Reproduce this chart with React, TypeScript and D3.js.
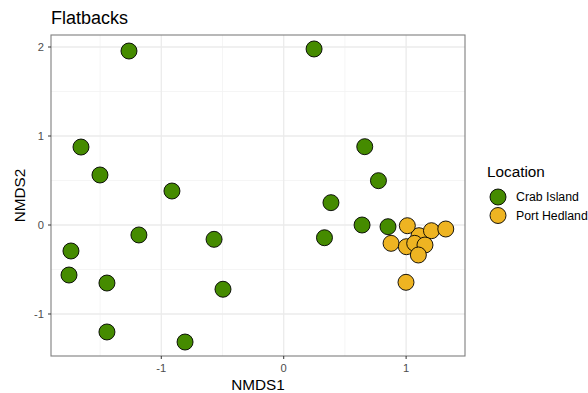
import React from 'react'
import * as d3 from 'd3'

// NMDS scores
const crabX = [-1.264, -1.656, -1.501, -0.913, -1.183, -1.738, -1.754, -1.444, -1.444, -0.806, -0.569, -0.496, 0.248, 0.662, 0.774, 0.386, 0.64, 0.333, 0.852]
const crabY = [1.955, 0.876, 0.562, 0.382, -0.112, -0.292, -0.562, -0.652, -1.202, -1.315, -0.161, -0.722, 1.978, 0.88, 0.498, 0.251, 0.0, -0.143, -0.019]
const portX = [1.105, 1.01, 1.207, 1.324, 0.877, 1.002, 1.07, 1.154, 1.1, 0.999]
const portY = [-0.12, -0.008, -0.064, -0.045, -0.206, -0.244, -0.206, -0.225, -0.337, -0.644]

const locations = ['Crab Island', 'Port Hedland']
const colours = ['#458B00', '#EEB422']
const xTicks = [-1, 0, 1]
const yTicks = [-1, 0, 1, 2]
const xMinor = [-1.5, -0.5, 0.5]
const yMinor = [-0.5, 0.5, 1.5]

const W = 588, H = 393
const margin = { top: 35, right: 123, bottom: 37, left: 51 }
const font = 'Liberation Sans, Arial, sans-serif'

export default function App() {
    const x = d3.scaleLinear().domain([-1.901, 1.481]).range([margin.left, W - margin.right])
    const y = d3.scaleLinear().domain([-1.472, 2.135]).range([H - margin.bottom, margin.top])
    const [x0, x1] = x.range()
    const [y0, y1] = y.range()

    const series = [
        { name: locations[0], fill: colours[0], pts: crabX.map((v, i) => [v, crabY[i]]) },
        { name: locations[1], fill: colours[1], pts: portX.map((v, i) => [v, portY[i]]) }
    ]

    return (
        <svg width={W} height={H} style={{ position: 'absolute', left: 0, top: 0, background: '#fff' }} fontFamily={font}>
            {/* grid */}
            {xMinor.map(t => <line key={'xm' + t} x1={x(t)} x2={x(t)} y1={y1} y2={y0} stroke="#F2F2F2" strokeWidth={0.8} />)}
            {yMinor.map(t => <line key={'ym' + t} y1={y(t)} y2={y(t)} x1={x0} x2={x1} stroke="#F2F2F2" strokeWidth={0.8} />)}
            {xTicks.map(t => <line key={'xg' + t} x1={x(t)} x2={x(t)} y1={y1} y2={y0} stroke="#EBEBEB" strokeWidth={1.3} />)}
            {yTicks.map(t => <line key={'yg' + t} y1={y(t)} y2={y(t)} x1={x0} x2={x1} stroke="#EBEBEB" strokeWidth={1.3} />)}

            {/* points */}
            {series.map(s => s.pts.map((p, i) => (
                <circle key={s.name + i} cx={x(p[0])} cy={y(p[1])} r={8} fill={s.fill} stroke="#000" strokeWidth={0.9} />
            )))}

            {/* panel border */}
            <rect x={x0} y={y1} width={x1 - x0} height={y0 - y1} fill="none" stroke="#7F7F7F" strokeWidth={1.1} />

            {/* axes ticks */}
            {xTicks.map(t => (
                <g key={'xt' + t}>
                    <line x1={x(t)} x2={x(t)} y1={y0} y2={y0 + 3} stroke="#333" />
                    <text x={x(t)} y={y0 + 16} textAnchor="middle" fontSize={11.2} fill="#4D4D4D">{t < 0 ? '-' + Math.abs(t) : t}</text>
                </g>
            ))}
            {yTicks.map(t => (
                <g key={'yt' + t}>
                    <line x1={x0 - 3} x2={x0} y1={y(t)} y2={y(t)} stroke="#333" />
                    <text x={x0 - 7} y={y(t) + 4} textAnchor="end" fontSize={11.2} fill="#4D4D4D">{t < 0 ? '-' + Math.abs(t) : t}</text>
                </g>
            ))}

            {/* titles */}
            <text x={x0} y={24} fontSize={18} fill="#000">Flatbacks</text>
            <text x={(x0 + x1) / 2} y={390} textAnchor="middle" fontSize={15.3} fill="#000">NMDS1</text>
            <text transform={`translate(25,${(y0 + y1) / 2}) rotate(-90)`} textAnchor="middle" fontSize={15.3} fill="#000">NMDS2</text>

            {/* legend */}
            <text x={487} y={177} fontSize={15.3} fill="#000">Location</text>
            {series.map((s, i) => (
                <g key={'lg' + i} transform={`translate(498,${197 + i * 18.5})`}>
                    <circle r={8} fill={s.fill} stroke="#000" strokeWidth={0.9} />
                    <text x={18} y={4.3} fontSize={12.3} fill="#000">{s.name}</text>
                </g>
            ))}
        </svg>
    )
}
